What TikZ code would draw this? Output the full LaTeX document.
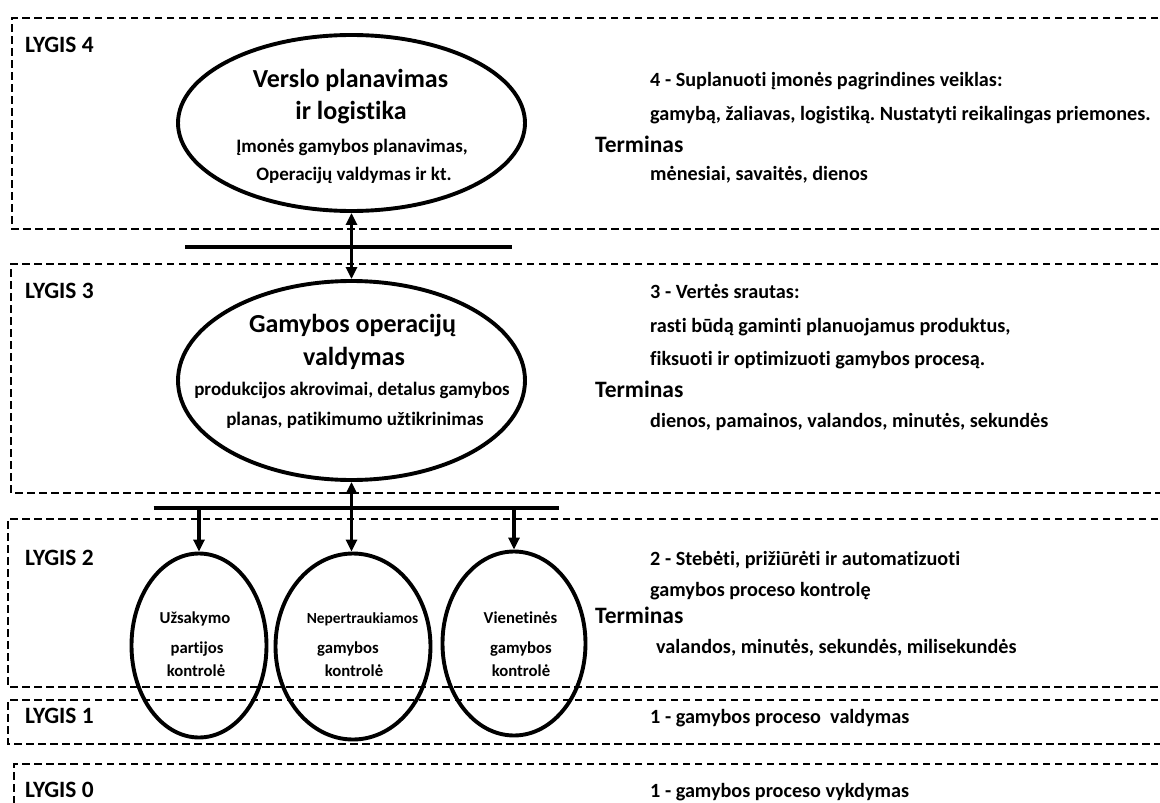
\documentclass[tikz,border=0pt]{standalone}
\usepackage{fontspec}
\setmainfont{Carlito}[Ligatures=NoCommon]
\usetikzlibrary{shapes.geometric,arrows.meta}
\frenchspacing
\begin{document}
\begin{tikzpicture}[x=1pt,y=-1pt,
  levelbox/.style={draw, line width=1.2pt, dash pattern=on 7.5pt off 4.5pt},
  oval/.style={draw, ellipse, line width=3.9pt, inner sep=0pt},
  bus/.style={line width=4.2pt},
  link/.style={line width=3.2pt, -{Triangle[length=12pt,width=11pt]}},
  dlink/.style={line width=3.2pt, {Triangle[length=12pt,width=11pt]}-{Triangle[length=12pt,width=11pt]}},
  lvl/.style={font=\bfseries\fontsize{23.4}{26}\selectfont, anchor=base west, inner sep=0pt},
  title/.style={font=\bfseries\fontsize{26}{30}\selectfont, anchor=base, inner sep=0pt},
  sub/.style={font=\bfseries\fontsize{19}{22}\selectfont, anchor=base, inner sep=0pt},
  small/.style={font=\bfseries\fontsize{16.7}{19}\selectfont, anchor=base, inner sep=0pt},
  desc/.style={font=\bfseries\fontsize{20.2}{24}\selectfont, anchor=base west, inner sep=0pt},
  term/.style={font=\bfseries\fontsize{23.5}{27}\selectfont, anchor=base west, inner sep=0pt}]

\useasboundingbox (0,0) rectangle (1160,803);
\fill[white] (0,0) rectangle (1160,803);

% level frames (open to the right)
\draw[levelbox] (1170,18) -- (12,18) -- (12,229) -- (1170,229);
\draw[levelbox] (1170,264) -- (11,264) -- (11,493) -- (1170,493);
\draw[levelbox] (1170,519) -- (8,519) -- (8,687) -- (1170,687);
\draw[levelbox] (1170,700) -- (8,700) -- (8,744) -- (1170,744);
\draw[levelbox] (1170,764) -- (14,764) -- (14,810);

% level labels
\node[lvl] (l4) at (25,52) {LYGIS 4};
\node[lvl] (l3) at (25,298) {LYGIS 3};
\node[lvl] (l2) at (25,565) {LYGIS 2};
\node[lvl] (l1) at (25,723) {LYGIS 1};
\node[lvl] (l0) at (25,797) {LYGIS 0};

% ovals
\node[oval, minimum width=347pt, minimum height=176pt] (V) at (351.5,123) {};
\node[oval, minimum width=347pt, minimum height=199pt] (G) at (351.5,380.5) {};
\node[oval, minimum width=135pt, minimum height=184pt] (E1) at (199,645.5) {};
\node[oval, minimum width=155pt, minimum height=186pt] (E2) at (353,646.5) {};
\node[oval, minimum width=143pt, minimum height=184pt] (E3) at (514,643.5) {};

% oval texts
\node[title] (v1) at (350.5,87) {Verslo planavimas};
\node[title] (v2) at (351,119) {ir logistika};
\node[sub] (v3) at (352,152) {Įmonės gamybos planavimas,};
\node[sub] (v4) at (354,180) {Operacijų valdymas ir kt.};

\node[title] (g1) at (352.5,332) {Gamybos operacijų};
\node[title] (g2) at (354,365) {valdymas};
\node[sub] (g3) at (352,395) {produkcijos akrovimai, detalus gamybos};
\node[sub] (g4) at (355,425) {planas, patikimumo užtikrinimas};

\node[small] (a1) at (195,623) {Užsakymo};
\node[small] (a2) at (197,653) {partijos};
\node[small] (a3) at (196,676) {kontrolė};

\node[small, font=\bfseries\fontsize{15.4}{18}\selectfont] (b1) at (362.5,623) {Nepertraukiamos};
\node[small] (b2) at (348,653) {gamybos};
\node[small] (b3) at (354,676) {kontrolė};

\node[small] (c1) at (520.5,623) {Vienetinės};
\node[small] (c2) at (521,653) {gamybos};
\node[small] (c3) at (521,676) {kontrolė};

% buses and links
\coordinate (bus1l) at (185,247);
\coordinate (bus1r) at (512,247);
\coordinate (bus2l) at (153.5,508);
\coordinate (bus2r) at (558.5,508);
\draw[bus] (bus1l) -- (bus1r);
\draw[bus] (bus2l) -- (bus2r);
\draw[dlink] (V.south) -- (G.north);
\draw[dlink] (G.south) -- (G.south |- E2.north);
\draw[link] (E1.north |- bus2l) -- (E1.north);
\draw[link] (E3.north |- bus2l) -- (E3.north);

% level descriptions
\node[desc] (d41) at (650,86) {4 - Suplanuoti įmonės pagrindines veiklas:};
\node[desc] (d42) at (650,120) {gamybą, žaliavas, logistiką. Nustatyti reikalingas priemones.};
\node[term] (t4) at (595,152) {Terminas};
\node[desc] (d43) at (650,180) {mėnesiai, savaitės, dienos};

\node[desc] (d31) at (650,298) {3 - Vertės srautas:};
\node[desc] (d32) at (650,332) {rasti būdą gaminti planuojamus produktus,};
\node[desc] (d33) at (650,365) {fiksuoti ir optimizuoti gamybos procesą.};
\node[term] (t3) at (595,397) {Terminas};
\node[desc] (d34) at (650,427) {dienos, pamainos, valandos, minutės, sekundės};

\node[desc] (d21) at (650,565) {2 - Stebėti, prižiūrėti ir automatizuoti};
\node[desc] (d22) at (650,596) {gamybos proceso kontrolę};
\node[term] (t2) at (595,623) {Terminas};
\node[desc] (d23) at (656,653) {valandos, minutės, sekundės, milisekundės};

\node[desc] (d11) at (650,723) {1 - gamybos proceso\ \ valdymas};
\node[desc] (d01) at (650,797) {1 - gamybos proceso vykdymas};
\end{tikzpicture}
\end{document}
